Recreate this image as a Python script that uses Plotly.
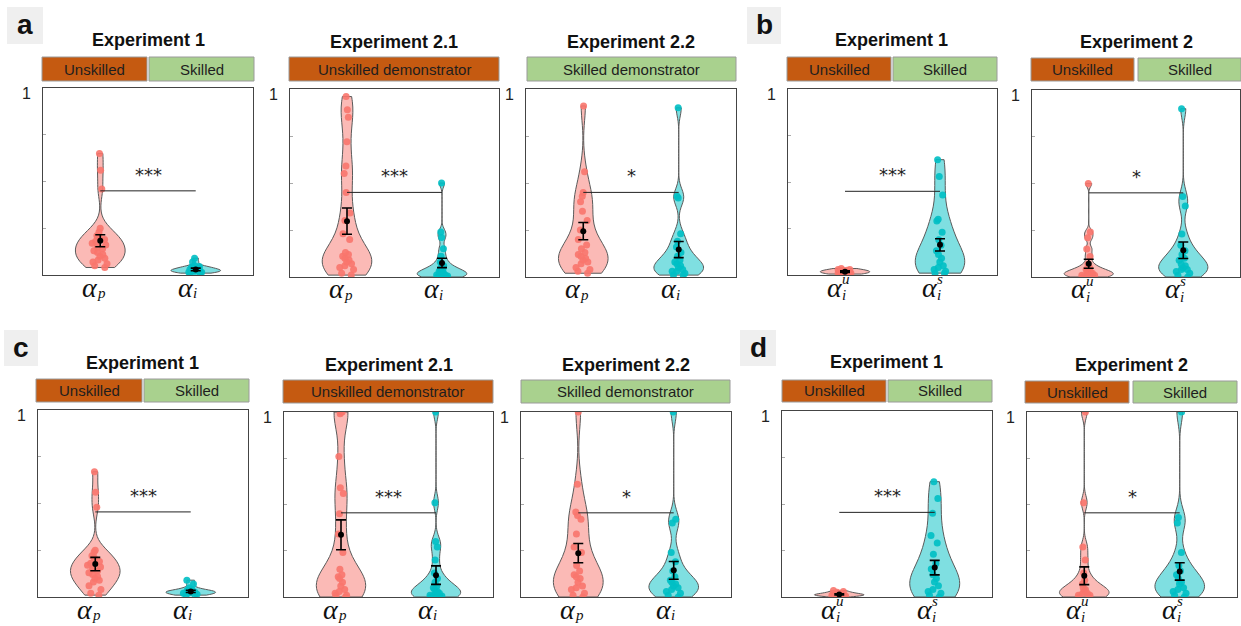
import statistics
import plotly.graph_objects as go

W, H = 1241, 626

# ---------------- data ----------------
# panel a (top-left): alpha_p (pink) vs alpha_i (cyan)
a1_alpha_p = [0.65, 0.56, 0.46, 0.25, 0.23, 0.21, 0.20, 0.19, 0.18, 0.17, 0.16, 0.15, 0.14, 0.13, 0.12, 0.11, 0.10, 0.09, 0.08, 0.07, 0.06, 0.05, 0.04]
a1_alpha_i = [0.09, 0.07, 0.05, 0.045, 0.04, 0.04, 0.035, 0.03, 0.03, 0.03, 0.025, 0.025, 0.02, 0.02, 0.02, 0.015, 0.015, 0.01, 0.01]
a2_alpha_p = [0.96, 0.89, 0.85, 0.72, 0.59, 0.55, 0.45, 0.34, 0.30, 0.23, 0.20, 0.13, 0.12, 0.11, 0.10, 0.09, 0.08, 0.07, 0.06, 0.05, 0.04, 0.02, 0.01]
a2_alpha_i = [0.50, 0.24, 0.21, 0.15, 0.11, 0.08, 0.06, 0.05, 0.04, 0.03, 0.03, 0.02, 0.02, 0.01, 0.01, 0.01, 0.005, 0.0, 0.0]
a3_alpha_p = [0.91, 0.56, 0.45, 0.43, 0.40, 0.35, 0.30, 0.25, 0.20, 0.17, 0.15, 0.13, 0.12, 0.11, 0.10, 0.09, 0.08, 0.07, 0.05, 0.04, 0.03, 0.02]
a3_alpha_i = [0.90, 0.43, 0.42, 0.23, 0.19, 0.16, 0.13, 0.11, 0.09, 0.08, 0.07, 0.06, 0.05, 0.04, 0.03, 0.03, 0.02, 0.01, 0.01]
# panel b (top-right): alpha_i^u (pink) vs alpha_i^s (cyan)
b1_alpha_u = [0.035, 0.03, 0.03, 0.025, 0.025, 0.02, 0.02, 0.02, 0.015, 0.015, 0.01, 0.01, 0.01, 0.005, 0.005]
b1_alpha_s = [0.62, 0.53, 0.43, 0.30, 0.29, 0.23, 0.19, 0.16, 0.13, 0.11, 0.09, 0.07, 0.05, 0.04, 0.03, 0.02, 0.01, 0.01]
b2_alpha_u = [0.50, 0.24, 0.21, 0.15, 0.11, 0.07, 0.05, 0.04, 0.03, 0.03, 0.02, 0.02, 0.01, 0.01, 0.01, 0.0, 0.0]
b2_alpha_s = [0.90, 0.43, 0.38, 0.23, 0.17, 0.14, 0.12, 0.10, 0.09, 0.07, 0.06, 0.05, 0.04, 0.04, 0.03, 0.02, 0.01, 0.0]
# panel c (bottom-left)
c1_alpha_p = [0.67, 0.56, 0.48, 0.25, 0.24, 0.22, 0.21, 0.19, 0.18, 0.17, 0.16, 0.15, 0.14, 0.13, 0.12, 0.11, 0.10, 0.09, 0.08, 0.06, 0.04, 0.02, 0.01]
c1_alpha_i = [0.09, 0.07, 0.05, 0.04, 0.035, 0.03, 0.03, 0.03, 0.025, 0.02, 0.02, 0.015, 0.01, 0.01]
c2_alpha_p = [1.0, 1.0, 0.99, 0.76, 0.59, 0.56, 0.45, 0.34, 0.24, 0.15, 0.12, 0.11, 0.10, 0.08, 0.06, 0.04, 0.03, 0.02, 0.01, 0.01, 0.0]
c2_alpha_i = [1.0, 0.51, 0.30, 0.27, 0.20, 0.13, 0.10, 0.08, 0.06, 0.05, 0.04, 0.03, 0.02, 0.02, 0.01, 0.01, 0.005, 0.0, 0.0]
c3_alpha_p = [1.0, 0.61, 0.46, 0.44, 0.42, 0.34, 0.27, 0.24, 0.17, 0.14, 0.12, 0.11, 0.10, 0.08, 0.06, 0.05, 0.04, 0.02, 0.01, 0.0]
c3_alpha_i = [1.0, 0.42, 0.40, 0.24, 0.19, 0.14, 0.11, 0.09, 0.08, 0.07, 0.06, 0.05, 0.04, 0.03, 0.02, 0.01, 0.0]
# panel d (bottom-right)
d1_alpha_u = [0.035, 0.03, 0.025, 0.02, 0.02, 0.015, 0.015, 0.012, 0.01, 0.01, 0.01, 0.005, 0.005, 0.0]
d1_alpha_s = [0.62, 0.53, 0.45, 0.33, 0.29, 0.23, 0.18, 0.15, 0.12, 0.10, 0.08, 0.06, 0.04, 0.03, 0.02, 0.01, 0.0]
d2_alpha_u = [1.0, 0.51, 0.27, 0.20, 0.13, 0.09, 0.07, 0.05, 0.04, 0.03, 0.02, 0.02, 0.01, 0.01, 0.0, 0.0]
d2_alpha_s = [1.0, 0.43, 0.40, 0.24, 0.17, 0.14, 0.12, 0.10, 0.08, 0.07, 0.05, 0.04, 0.03, 0.02, 0.01, 0.0]

# means and error bars (pink, cyan) per subplot
a1_mean, a1_err = [0.183, 0.030], [0.032, 0.007]
a2_mean, a2_err = [0.297, 0.075], [0.070, 0.025]
a3_mean, a3_err = [0.244, 0.146], [0.046, 0.043]
b1_mean, b1_err = [0.018, 0.162], [0.004, 0.033]
b2_mean, b2_err = [0.071, 0.143], [0.024, 0.044]
c1_mean, c1_err = [0.176, 0.030], [0.036, 0.006]
c2_mean, c2_err = [0.336, 0.118], [0.081, 0.050]
c3_mean, c3_err = [0.237, 0.144], [0.052, 0.048]
d1_mean, d1_err = [0.014, 0.158], [0.003, 0.039]
d2_mean, d2_err = [0.115, 0.138], [0.048, 0.047]

stars = ["***", "***", "*", "***", "*", "***", "***", "*", "***", "*"]
bracket_y = [0.45, 0.45, 0.45, 0.45, 0.45, 0.455, 0.455, 0.455, 0.455, 0.455]
titles = ["Experiment 1", "Experiment 2.1", "Experiment 2.2", "Experiment 1", "Experiment 2",
          "Experiment 1", "Experiment 2.1", "Experiment 2.2", "Experiment 1", "Experiment 2"]
labels_pi = [("p", None), ("i", None)]
labels_us = [("i", "u"), ("i", "s")]
panel_letters = ["a", "b", "c", "d"]

# ---------------- styling / layout ----------------
ORANGE, GREEN = "#C55A11", "#A9D18E"
PINK_FILL, CYAN_FILL = "rgba(248,118,109,0.5)", "rgba(0,191,196,0.5)"
PINK_PT, CYAN_PT = "#F8766D", "#00BFC4"

panels = [
    dict(p=a1_alpha_p, q=a1_alpha_i, m=a1_mean, e=a1_err, lab=labels_pi, box=(43, 88, 253, 275), tc=(148, 40),
         tags=[("Unskilled", 42, 147, 57, 81, ORANGE), ("Skilled", 149, 254, 57, 81, GREEN)]),
    dict(p=a2_alpha_p, q=a2_alpha_i, m=a2_mean, e=a2_err, lab=labels_pi, box=(290, 89, 499, 277), tc=(394, 42),
         tags=[("Unskilled demonstrator", 289, 499, 57, 81, ORANGE)]),
    dict(p=a3_alpha_p, q=a3_alpha_i, m=a3_mean, e=a3_err, lab=labels_pi, box=(526, 89, 736, 277), tc=(631, 42),
         tags=[("Skilled demonstrator", 527, 736, 57, 81, GREEN)]),
    dict(p=b1_alpha_u, q=b1_alpha_s, m=b1_mean, e=b1_err, lab=labels_us, box=(788, 89, 997, 275), tc=(891, 40),
         tags=[("Unskilled", 787, 891, 57, 81, ORANGE), ("Skilled", 893, 997, 57, 81, GREEN)]),
    dict(p=b2_alpha_u, q=b2_alpha_s, m=b2_mean, e=b2_err, lab=labels_us, box=(1032, 90, 1240, 277), tc=(1136, 42),
         tags=[("Unskilled", 1031, 1134, 58, 81, ORANGE), ("Skilled", 1138, 1241, 58, 81, GREEN)]),
    dict(p=c1_alpha_p, q=c1_alpha_i, m=c1_mean, e=c1_err, lab=labels_pi, box=(38, 410, 248, 597), tc=(142, 363),
         tags=[("Unskilled", 36, 142, 379, 402, ORANGE), ("Skilled", 144, 249, 379, 402, GREEN)]),
    dict(p=c2_alpha_p, q=c2_alpha_i, m=c2_mean, e=c2_err, lab=labels_pi, box=(284, 412, 493, 597), tc=(389, 365),
         tags=[("Unskilled demonstrator", 283, 493, 380, 403, ORANGE)]),
    dict(p=c3_alpha_p, q=c3_alpha_i, m=c3_mean, e=c3_err, lab=labels_pi, box=(521, 412, 731, 597), tc=(626, 365),
         tags=[("Skilled demonstrator", 521, 730, 380, 403, GREEN)]),
    dict(p=d1_alpha_u, q=d1_alpha_s, m=d1_mean, e=d1_err, lab=labels_us, box=(782, 411, 992, 597), tc=(886, 362),
         tags=[("Unskilled", 782, 886, 380, 402, ORANGE), ("Skilled", 888, 992, 380, 402, GREEN)]),
    dict(p=d2_alpha_u, q=d2_alpha_s, m=d2_mean, e=d2_err, lab=labels_us, box=(1027, 412, 1237, 597), tc=(1131, 365),
         tags=[("Unskilled", 1025, 1129, 381, 403, ORANGE), ("Skilled", 1133, 1237, 381, 403, GREEN)]),
]
letter_boxes = [(7, 7, 43, 44), (747, 7, 781, 44), (4, 330, 38, 366), (740, 330, 776, 366)]


def px(x):
    return x / W


def py(y):
    return 1 - y / H


def ks_bandwidth(vals):
    # normal-reference bandwidth with a robust (MAD) spread, as in ksdensity
    med = statistics.median(vals)
    mad = statistics.median([abs(v - med) for v in vals])
    sig = mad / 0.6745
    if sig <= 0:
        sig = statistics.pstdev(vals) or 0.01
    return sig * (4.0 / (3.0 * len(vals))) ** 0.2


fig = go.Figure()
layout = dict(width=W, height=H, margin=dict(l=0, r=0, t=0, b=0, pad=0, autoexpand=False), autosize=False,
              paper_bgcolor="white", plot_bgcolor="white", violinmode="overlay",
              showlegend=False, shapes=[], annotations=[])

for k, pan in enumerate(panels):
    idx = "" if k == 0 else str(k + 1)
    xa, ya = "x" + idx, "y" + idx
    L, T, R, B = pan["box"]
    layout["xaxis" + idx] = dict(domain=[px(L), px(R)], range=[-0.6, 1.6], anchor=ya,
                                 showline=True, mirror=True, linecolor="#444", linewidth=1,
                                 showgrid=False, zeroline=False, showticklabels=False, ticks="",
                                 fixedrange=True)
    layout["yaxis" + idx] = dict(domain=[py(B), py(T)], range=[0, 1], anchor=xa,
                                 showline=True, mirror=True, linecolor="#444", linewidth=1,
                                 showgrid=False, zeroline=False,
                                 tickvals=[0.25, 0.5, 0.75, 1], ticktext=["", "", "", "1"],
                                 ticks="inside", ticklen=3, tickcolor="#aaa",
                                 tickfont=dict(family="Liberation Sans", size=16, color="#222"),
                                 ticklabelstandoff=8, ticklabelshift=5, fixedrange=True)

    for pos, vals, fc, pc in [(0, pan["p"], PINK_FILL, PINK_PT), (1, pan["q"], CYAN_FILL, CYAN_PT)]:
        fig.add_trace(go.Violin(y=vals, x0=pos, xaxis=xa, yaxis=ya, width=0.52, scalemode="width",
                                bandwidth=ks_bandwidth(vals),
                                spanmode="hard", points="all", pointpos=0, jitter=0.35,
                                fillcolor=fc, line=dict(color="#5a5a5a", width=1),
                                marker=dict(color=pc, size=7, opacity=0.9, line=dict(width=0)),
                                box_visible=False, meanline_visible=False, showlegend=False))

    # significance bracket
    fig.add_trace(go.Scatter(x=[0, 1], y=[bracket_y[k]] * 2, xaxis=xa, yaxis=ya, mode="lines",
                             line=dict(color="#222", width=1), showlegend=False, hoverinfo="skip"))
    layout["annotations"].append(dict(x=0.5, y=bracket_y[k], xref=xa, yref=ya, text=stars[k],
                                      showarrow=False, yanchor="bottom", yshift=4,
                                      font=dict(family="DejaVu Sans", size=18, color="#222")))
    # mean +/- error
    fig.add_trace(go.Scatter(x=[0, 1], y=pan["m"], xaxis=xa, yaxis=ya, mode="markers",
                             marker=dict(color="black", size=6),
                             error_y=dict(type="data", array=pan["e"], color="black", thickness=1.6, width=5),
                             showlegend=False, hoverinfo="skip"))

    # title
    tx, ty = pan["tc"]
    layout["annotations"].append(dict(x=px(tx), y=py(ty), xref="paper", yref="paper", text="<b>%s</b>" % titles[k],
                                      showarrow=False, xanchor="center", yanchor="middle",
                                      font=dict(family="Liberation Sans", size=18, color="#111")))
    # tags
    for (txt, x0, x1, y0, y1, col) in pan["tags"]:
        layout["shapes"].append(dict(type="rect", xref="paper", yref="paper", x0=px(x0), x1=px(x1),
                                     y0=py(y1), y1=py(y0), fillcolor=col, line=dict(color="#9a9a9a", width=1),
                                     layer="above"))
        layout["annotations"].append(dict(x=px((x0 + x1) / 2), y=py((y0 + y1) / 2), xref="paper", yref="paper",
                                          text=txt, showarrow=False, xanchor="center", yanchor="middle",
                                          font=dict(family="Liberation Sans", size=15, color="#1e1e1e")))
    # x labels (alpha with sub/superscript)
    for pos, (sub, sup) in enumerate(pan["lab"]):
        layout["annotations"].append(dict(x=pos, y=py(B + 12), xref=xa, yref="paper", text="<i>α</i>",
                                          showarrow=False, xanchor="right", yanchor="middle", xshift=0,
                                          font=dict(family="Liberation Serif", size=28, color="#111")))
        sub_y = B + 20 if sup else B + 18
        layout["annotations"].append(dict(x=pos, y=py(sub_y), xref=xa, yref="paper", text="<i>%s</i>" % sub,
                                          showarrow=False, xanchor="left", yanchor="middle", xshift=-5,
                                          font=dict(family="Liberation Serif", size=15, color="#111")))
        if sup:
            layout["annotations"].append(dict(x=pos, y=py(B + 4), xref=xa, yref="paper", text="<i>%s</i>" % sup,
                                              showarrow=False, xanchor="left", yanchor="middle", xshift=-5,
                                              font=dict(family="Liberation Serif", size=15, color="#111")))

for lt, (x0, y0, x1, y1) in zip(panel_letters, letter_boxes):
    layout["shapes"].append(dict(type="rect", xref="paper", yref="paper", x0=px(x0), x1=px(x1),
                                 y0=py(y1), y1=py(y0), fillcolor="#efefef", line=dict(width=0), layer="below"))
    layout["annotations"].append(dict(x=px((x0 + x1) / 2), y=py((y0 + y1) / 2 - 1), xref="paper", yref="paper",
                                      text="<b>%s</b>" % lt, showarrow=False, xanchor="center", yanchor="middle",
                                      font=dict(family="Liberation Sans", size=28, color="#111")))

fig.update_layout(**layout)
fig.write_html("out.html")
